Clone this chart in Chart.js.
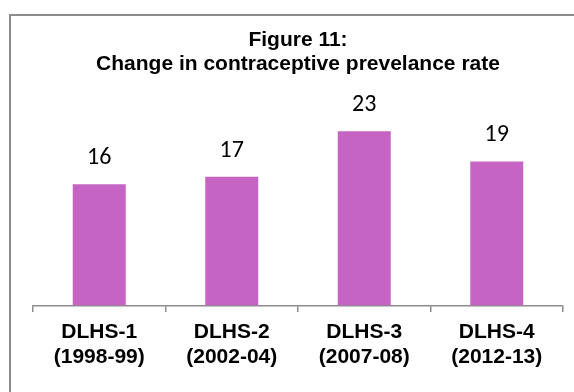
<!DOCTYPE html>
<html>
<head>
<meta charset="utf-8">
<script src="https://cdn.jsdelivr.net/npm/chart.js@4"></script>
<style>
  body { margin: 0; background: #fff; }
  canvas { display: block; }
</style>
</head>
<body>
<canvas id="cprChart" width="574" height="392"></canvas>
<script>
const titreLignes = ["Figure 11:", "Change in contraceptive prevelance rate"];
const enquetes = [
  ["DLHS-1", "(1998-99)"],
  ["DLHS-2", "(2002-04)"],
  ["DLHS-3", "(2007-08)"],
  ["DLHS-4", "(2012-13)"],
];
const tauxCPR = [16, 17, 23, 19];

// cadre gris autour du graphique
const cadrePlugin = {
  id: "cadre",
  beforeDraw(chart) {
    const ctx = chart.ctx;
    ctx.save();
    ctx.strokeStyle = "#8c8c8c";
    ctx.lineWidth = 2;
    ctx.strokeRect(10, 15, 700, 500);
    ctx.restore();
  },
};

// valeurs au-dessus des barres
const valeursPlugin = {
  id: "valeurs",
  afterDatasetsDraw(chart) {
    const ctx = chart.ctx;
    const meta = chart.getDatasetMeta(0);
    ctx.save();
    ctx.fillStyle = "#000";
    ctx.font = "24px Calibri, Carlito, 'Open Sans', sans-serif";
    ctx.textAlign = "center";
    ctx.textBaseline = "middle";
    meta.data.forEach((bar, i) => {
      ctx.fillText(tauxCPR[i], bar.x, bar.y - 26);
    });
    ctx.restore();
  },
};

document.addEventListener("DOMContentLoaded", () => {
  const ctx = document.getElementById("cprChart").getContext("2d");
  new Chart(ctx, {
    type: "bar",
    data: {
      labels: enquetes,
      datasets: [
        {
          label: "CPR",
          data: tauxCPR,
          backgroundColor: "#c664c4",
          barPercentage: 0.4,
          categoryPercentage: 1,
        },
      ],
    },
    options: {
      responsive: false,
      animation: false,
      layout: {
        padding: { left: 33, right: 11, top: 0, bottom: 14 },
      },
      plugins: {
        legend: { display: false },
        tooltip: { enabled: false },
        title: {
          display: true,
          text: titreLignes,
          color: "#000",
          font: { family: "'Liberation Sans', Arial, sans-serif", size: 21, weight: "bold", lineHeight: "24px" },
          padding: { top: 28, bottom: 40 },
        },
      },
      scales: {
        x: {
          grid: {
            drawOnChartArea: false,
            drawTicks: true,
            tickLength: 6.5,
            color: "#8c8c8c",
            lineWidth: 1.5,
          },
          border: { display: true, color: "#8c8c8c", width: 1.5 },
          ticks: {
            color: "#000",
            padding: 8,
            font: { family: "'Liberation Sans', Arial, sans-serif", size: 21, weight: "bold", lineHeight: "25px" },
          },
        },
        y: {
          display: false,
          min: 0,
          max: 25,
        },
      },
    },
    plugins: [cadrePlugin, valeursPlugin],
  });
});
</script>
</body>
</html>
